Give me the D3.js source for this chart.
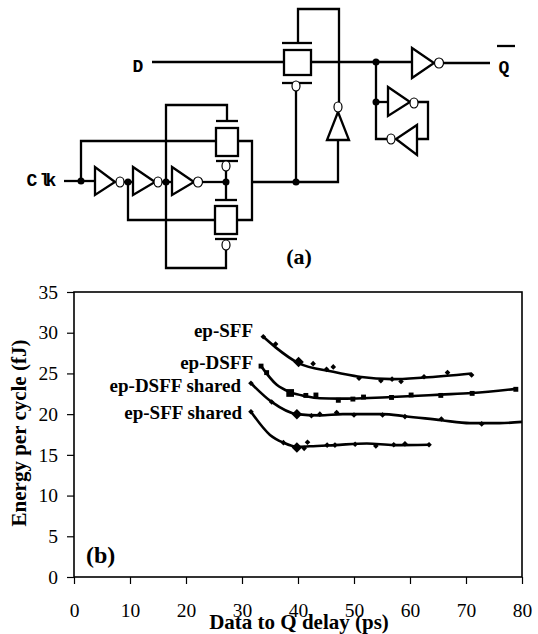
<!DOCTYPE html>
<html>
<head>
<meta charset="utf-8">
<script src="https://cdn.jsdelivr.net/npm/d3@7"></script>
<style>
  html, body { margin: 0; padding: 0; background: #fff; }
  svg { display: block; }
  text { fill: #000; font-family: "Liberation Serif", serif; }
  .mono { font-family: "Liberation Mono", monospace; font-weight: bold; }
</style>
</head>
<body>
<div id="chart"></div>
<script>
// Measured points (x = delay in ps, y = energy in fJ)
const sffX = [33.8, 36, 40.1, 42.7, 45.1, 46.3, 50.9, 54.8, 56.8, 58.4, 62.5, 66.7, 71];
const sffY = [29.5, 28.6, 26.4, 26.2, 25.5, 25.8, 24.4, 24.1, 24.3, 24.0, 24.6, 25.1, 24.8];
const dsffX = [33.4, 34.4, 38.6, 41.4, 43.2, 47.2, 49.8, 51.7, 56.7, 60.2, 65.5, 71.1, 78.9];
const dsffY = [25.9, 25.1, 22.6, 22.3, 22.35, 21.7, 21.85, 22.1, 22.05, 22.35, 22.3, 22.55, 23.05];
const dsffSharedX = [31.6, 35.3, 39.8, 42.4, 43.9, 46.9, 50, 55.1, 59.1, 65.6, 72.8];
const dsffSharedY = [23.8, 21.5, 20, 19.8, 20, 20.2, 19.9, 19.9, 19.7, 19.4, 18.8];
const sffSharedX = [31.6, 37.4, 39.8, 41.1, 41.7, 45.2, 46.6, 50.2, 53.9, 57.1, 59.1, 63.4];
const sffSharedY = [20.3, 16.5, 15.9, 15.8, 16.55, 16.2, 16.2, 16.3, 16.1, 16.25, 16.35, 16.25];

// Trend lines
const sffTrendX = [33.8, 36, 40, 46.3, 50.9, 56.8, 62.5, 71];
const sffTrendY = [29.5, 28.2, 26.3, 25.2, 24.6, 24.3, 24.5, 25];
const dsffTrendX = [33.4, 36.2, 38.6, 41.4, 43.9, 47.2, 56.7, 65.5, 71.1, 78.9];
const dsffTrendY = [25.9, 23.6, 22.7, 22.2, 21.95, 21.9, 22.1, 22.4, 22.6, 23.1];
const dsffSharedTrendX = [31.6, 35.3, 39.8, 43.9, 48, 55.1, 59.1, 65.6, 70.7, 76, 80];
const dsffSharedTrendY = [23.8, 21.5, 20, 19.85, 20, 20, 19.75, 19.25, 18.9, 18.9, 19.05];
const sffSharedTrendX = [31.6, 35, 37.4, 39.8, 42.1, 46.6, 52.3, 57.1, 63.4];
const sffSharedTrendY = [20.3, 17.45, 16.5, 16, 16.05, 16.2, 16.4, 16.2, 16.25];

const xTicks = [0, 10, 20, 30, 40, 50, 60, 70, 80];
const yTicks = [0, 5, 10, 15, 20, 25, 30, 35];

const svg = d3.select("#chart").append("svg")
    .attr("width", 538)
    .attr("height", 634);

const xScale = d3.scaleLinear().domain([0, 80]).range([74, 522]);
const yScale = d3.scaleLinear().domain([0, 35]).range([577, 292]);

function zip(xs, ys) {
    return xs.map((x, i) => [x, ys[i]]);
}

function drawPlot() {
    const g = svg.append("g");

    g.append("rect")
        .attr("x", xScale(0))
        .attr("y", yScale(35))
        .attr("width", xScale(80) - xScale(0))
        .attr("height", yScale(0) - yScale(35))
        .attr("fill", "none")
        .attr("stroke", "#000")
        .attr("stroke-width", 1.6);

    const xAxis = g.append("g")
        .attr("transform", `translate(0,${yScale(0)})`)
        .call(d3.axisBottom(xScale).tickValues(xTicks).tickSize(7).tickPadding(19));
    const yAxis = g.append("g")
        .attr("transform", `translate(${xScale(0)},0)`)
        .call(d3.axisLeft(yScale).tickValues(yTicks).tickSize(7).tickPadding(9));

    [xAxis, yAxis].forEach(a => {
        a.select(".domain").remove();
        a.selectAll("line").attr("stroke", "#000").attr("stroke-width", 1.2);
        a.selectAll("text")
            .style("font-family", '"Liberation Serif", serif')
            .style("font-size", "19.5px");
    });

    const line = d3.line()
        .x(d => xScale(d[0]))
        .y(d => yScale(d[1]))
        .curve(d3.curveMonotoneX);

    const trends = [
        zip(sffTrendX, sffTrendY),
        zip(dsffTrendX, dsffTrendY),
        zip(dsffSharedTrendX, dsffSharedTrendY),
        zip(sffSharedTrendX, sffSharedTrendY)
    ];
    g.selectAll(".trend")
        .data(trends)
        .enter()
        .append("path")
        .attr("class", "trend")
        .attr("d", line)
        .attr("fill", "none")
        .attr("stroke", "#000")
        .attr("stroke-width", 2.6);

    // Marker sets; the larger marker is the one sitting at about 40 ps
    const markerSets = [
        { pts: zip(sffX, sffY), type: d3.symbolDiamond2, big: 2 },
        { pts: zip(dsffX, dsffY), type: d3.symbolSquare, big: 2 },
        { pts: zip(dsffSharedX, dsffSharedY), type: d3.symbolDiamond2, big: 2 },
        { pts: zip(sffSharedX, sffSharedY), type: d3.symbolDiamond2, big: 2 }
    ];
    markerSets.forEach(set => {
        const isSquare = set.type === d3.symbolSquare;
        g.append("g").selectAll("path")
            .data(set.pts)
            .enter()
            .append("path")
            .attr("transform", d => `translate(${xScale(d[0])},${yScale(d[1])})`)
            .attr("d", (d, i) => d3.symbol()
                .type(set.type)
                .size(i === set.big ? (isSquare ? 60 : 70) : (isSquare ? 24 : 20))())
            .attr("fill", "#000");
    });

    const seriesLabels = [
        { text: "ep-SFF", x: 253, y: 337 },
        { text: "ep-DSFF", x: 253, y: 369 },
        { text: "ep-DSFF shared", x: 241, y: 392 },
        { text: "ep-SFF shared", x: 242, y: 419 }
    ];
    g.selectAll(".series-label")
        .data(seriesLabels)
        .enter()
        .append("text")
        .attr("class", "series-label")
        .attr("x", d => d.x)
        .attr("y", d => d.y)
        .attr("text-anchor", "end")
        .attr("font-weight", "bold")
        .attr("font-size", 19)
        .text(d => d.text);

    g.append("text")
        .attr("x", 299)
        .attr("y", 629)
        .attr("text-anchor", "middle")
        .attr("font-weight", "bold")
        .attr("font-size", 21)
        .text("Data to Q delay (ps)");

    g.append("text")
        .attr("transform", "translate(26,433) rotate(-90)")
        .attr("text-anchor", "middle")
        .attr("font-weight", "bold")
        .attr("font-size", 21)
        .text("Energy per cycle (fJ)");

    g.append("text")
        .attr("x", 86)
        .attr("y", 563)
        .attr("font-weight", "bold")
        .attr("font-size", 24)
        .text("(b)");
}

function drawSchematic() {
    const g = svg.append("g")
        .attr("fill", "none")
        .attr("stroke", "#000")
        .attr("stroke-width", 2.3);

    const wires = [
        [[152, 62], [284, 62]],
        [[311, 62], [412, 62]],
        [[298, 43], [298, 9], [339, 9], [339, 103]],
        [[443, 63], [490, 63]],
        [[376, 62], [376, 139], [387, 139]],
        [[376, 102], [388, 102]],
        [[418, 102], [428, 102], [428, 139], [417, 139]],
        [[338, 140], [338, 182], [252, 182]],
        [[296, 182], [296, 90]],
        [[64, 181], [95, 181]],
        [[81, 181], [81, 141], [216, 141]],
        [[124, 182], [133, 182]],
        [[162, 182], [172, 182]],
        [[202, 182], [226, 182]],
        [[226, 170], [226, 200]],
        [[227, 121], [227, 105], [166, 105], [166, 268], [226, 268], [226, 249]],
        [[128, 182], [128, 220], [215, 220]],
        [[238, 141], [252, 141], [252, 220], [237, 220]]
    ];
    g.selectAll(".wire")
        .data(wires)
        .enter()
        .append("path")
        .attr("class", "wire")
        .attr("d", d3.line());

    const triangles = [
        [[95, 167], [95, 195], [115, 182]],
        [[133, 167], [133, 195], [155, 182]],
        [[172, 167], [172, 195], [194, 182]],
        [[412, 48], [412, 78], [434, 63]],
        [[388, 87], [388, 116], [410, 102]],
        [[417, 125], [417, 155], [396, 139]],
        [[338, 112], [327, 140], [349, 140]]
    ];
    g.selectAll(".gate")
        .data(triangles)
        .enter()
        .append("path")
        .attr("class", "gate")
        .attr("d", d => d3.line()(d) + "Z")
        .attr("fill", "#fff");

    const boxes = [
        { x: 284, y: 50, w: 27, h: 25 },
        { x: 216, y: 128, w: 22, h: 28 },
        { x: 215, y: 206, w: 22, h: 28 }
    ];
    g.selectAll(".box")
        .data(boxes)
        .enter()
        .append("rect")
        .attr("x", d => d.x)
        .attr("y", d => d.y)
        .attr("width", d => d.w)
        .attr("height", d => d.h);

    const bars = [
        [[282, 43], [312, 43]], [[282, 83], [312, 83]],
        [[216, 121], [238, 121]], [[216, 161], [238, 161]],
        [[215, 200], [237, 200]], [[215, 239], [237, 239]],
        [[497, 46], [515, 46]]
    ];
    g.selectAll(".bar")
        .data(bars)
        .enter()
        .append("path")
        .attr("class", "bar")
        .attr("d", d3.line());

    const bubbles = [
        { x: 120, y: 182, rx: 4, ry: 5 }, { x: 158, y: 182, rx: 4, ry: 5 },
        { x: 198, y: 182, rx: 4.5, ry: 5 }, { x: 439, y: 63, rx: 4.5, ry: 5 },
        { x: 414, y: 103, rx: 4, ry: 5 }, { x: 391, y: 139, rx: 4, ry: 5 },
        { x: 338, y: 107, rx: 4, ry: 5 }, { x: 296, y: 86, rx: 4, ry: 5 },
        { x: 226, y: 166, rx: 4, ry: 5 }, { x: 226, y: 245, rx: 4, ry: 5 }
    ];
    g.selectAll(".bubble")
        .data(bubbles)
        .enter()
        .append("ellipse")
        .attr("cx", d => d.x)
        .attr("cy", d => d.y)
        .attr("rx", d => d.rx)
        .attr("ry", d => d.ry)
        .attr("fill", "#fff")
        .attr("stroke-width", 1.2);

    const nodes = [[81, 181], [128, 182], [166, 182], [226, 182], [296, 182], [376, 62], [376, 102]];
    g.selectAll(".node")
        .data(nodes)
        .enter()
        .append("circle")
        .attr("cx", d => d[0])
        .attr("cy", d => d[1])
        .attr("r", 3.5)
        .attr("fill", "#000")
        .attr("stroke", "none");

    const pinLabels = [
        { text: "D", x: 138, y: 72 },
        { text: "C", x: 32, y: 186 },
        { text: "l", x: 45, y: 186 },
        { text: "k", x: 51, y: 186 },
        { text: "Q", x: 504, y: 73 }
    ];
    svg.selectAll(".pin")
        .data(pinLabels)
        .enter()
        .append("text")
        .attr("class", "pin mono")
        .attr("x", d => d.x)
        .attr("y", d => d.y)
        .attr("text-anchor", "middle")
        .attr("font-size", 18)
        .text(d => d.text);

    svg.append("text")
        .attr("x", 299)
        .attr("y", 264)
        .attr("text-anchor", "middle")
        .attr("font-weight", "bold")
        .attr("font-size", 22)
        .text("(a)");
}

drawSchematic();
drawPlot();
</script>
</body>
</html>
